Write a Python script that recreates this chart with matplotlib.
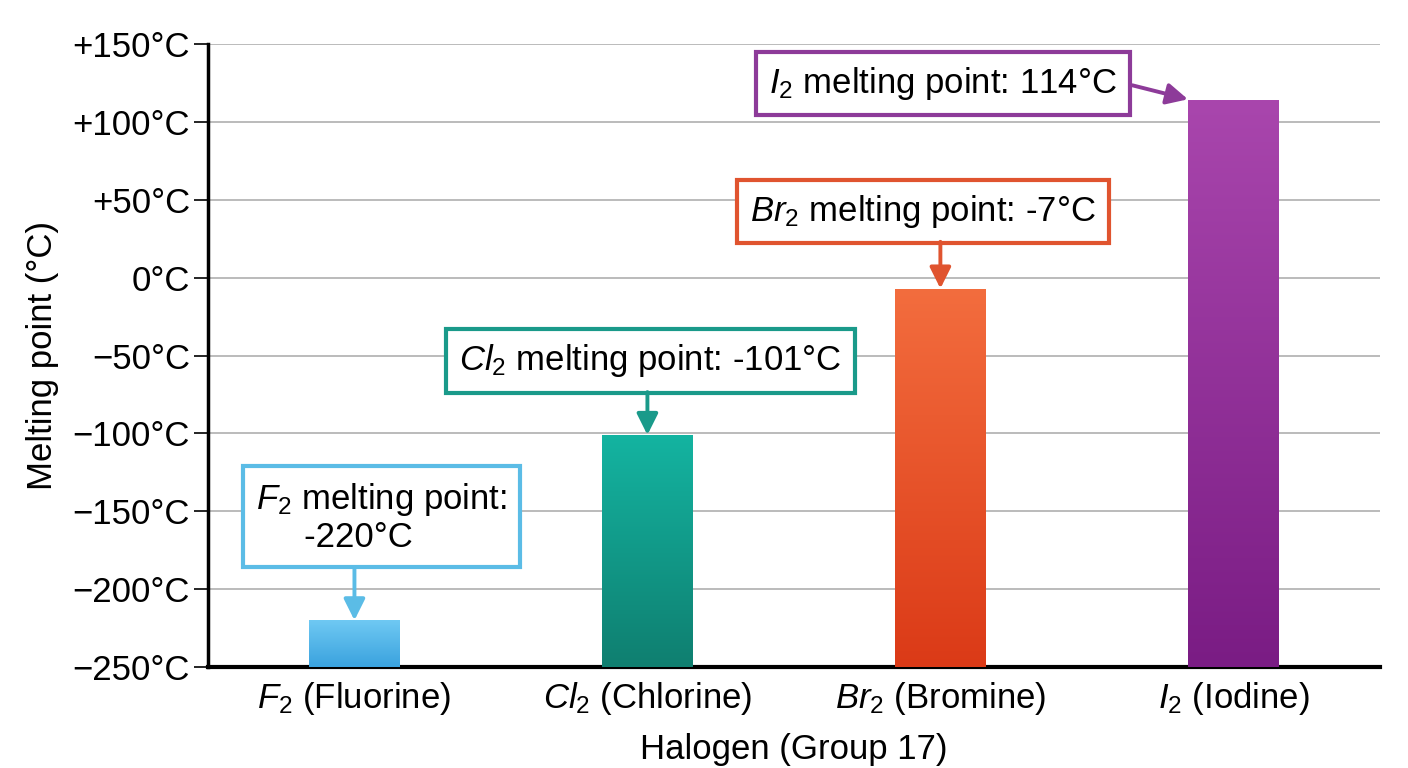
import numpy as np
import matplotlib.pyplot as plt
from matplotlib.colors import LinearSegmentedColormap

plt.rcParams['font.family'] = ['Liberation Sans', 'DejaVu Sans']
plt.rcParams['mathtext.fontset'] = 'custom'
plt.rcParams['mathtext.rm'] = 'Liberation Sans'
plt.rcParams['mathtext.it'] = 'Liberation Sans:italic'

# data
halogens = [r'$F_2$ (Fluorine)', r'$Cl_2$ (Chlorine)', r'$Br_2$ (Bromine)', r'$I_2$ (Iodine)']
melting = [-220, -101, -7, 114]
notes = [r'$F_2$ melting point:' + '\n     -220°C',
         r'$Cl_2$ melting point: -101°C',
         r'$Br_2$ melting point: -7°C',
         r'$I_2$ melting point: 114°C']
yticks = [-250, -200, -150, -100, -50, 0, 50, 100, 150]
ytick_labels = ['−250°C', '−200°C', '−150°C', '−100°C', '−50°C', '0°C', '+50°C', '+100°C', '+150°C']

top_cols = ['#6FC9F3', '#14B4A1', '#F36D3E', '#A946AD']
bot_cols = ['#3AA2DE', '#0F7F70', '#DB3A17', '#7A1C84']
edge_cols = ['#5BBCE6', '#1A9A8A', '#E0542F', '#8D3B99']

ymin, ymax = -250, 150
bw = 0.31
fs = 25

fig = plt.figure(figsize=(14.08, 7.68), dpi=100)
ax = fig.add_axes([0.1477, 0.1315, 0.8323, 0.8112])

x = np.arange(len(halogens))
bars = ax.bar(x, np.array(melting) - ymin, bottom=ymin, width=bw, color='none', zorder=3)

grad = np.linspace(0, 1, 256).reshape(-1, 1)
for i, b in enumerate(bars):
    cmap = LinearSegmentedColormap.from_list('g%d' % i, [bot_cols[i], top_cols[i]])
    im = ax.imshow(grad, cmap=cmap, origin='lower', aspect='auto', zorder=3,
                   extent=[b.get_x(), b.get_x() + bw, ymin, melting[i]])
    im.set_clip_path(b)

ax.set_xlim(-0.5, 3.5)
ax.set_ylim(ymin, ymax)
ax.set_yticks(yticks)
ax.set_yticklabels(ytick_labels, fontsize=fs)
ax.set_xticks(x)
ax.set_xticklabels(halogens, fontsize=fs)
ax.tick_params(axis='x', length=0, pad=9)
ax.tick_params(axis='y', length=10, width=1.2, pad=3)
ax.grid(axis='y', color='#a8a8a8', lw=1.1, zorder=0)
ax.set_axisbelow(True)
for s in ['top', 'right']:
    ax.spines[s].set_visible(False)
ax.spines['left'].set_linewidth(2.5)
ax.spines['bottom'].set_linewidth(3)
ax.set_ylabel('Melting point (°C)', fontsize=fs, labelpad=10)
ax.set_xlabel('Halogen (Group 17)', fontsize=fs, labelpad=12)

# annotation boxes (text position, arrow start)
box_xy = [(-0.335, -154), (1.01, -53.5), (1.94, 42.4), (2.01, 124.5)]
box_ha = ['left', 'center', 'center', 'center']
arrow_from = [(0, -187), (1, -73.5), (2, 23), (2.655, 123.5)]
arrow_to = [(0, -220), (1, -101), (2, -7), (2.845, 114.5)]

for i in range(4):
    ax.text(box_xy[i][0], box_xy[i][1], notes[i], fontsize=fs, ha=box_ha[i], va='center',
            linespacing=1.1, zorder=5,
            bbox=dict(boxstyle='square,pad=0.38', fc='white', ec=edge_cols[i], lw=3))
    ax.annotate('', xy=arrow_to[i], xytext=arrow_from[i], zorder=6,
                arrowprops=dict(arrowstyle='-|>', color=edge_cols[i], lw=2.8,
                                mutation_scale=32, shrinkA=0, shrinkB=0))

fig.savefig('out.png', dpi=100)
